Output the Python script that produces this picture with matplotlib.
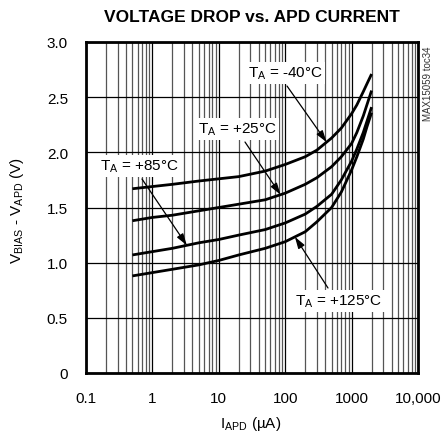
import numpy as np
import matplotlib
matplotlib.use("Agg")
import matplotlib.pyplot as plt
from matplotlib.ticker import FixedLocator, NullFormatter, LogLocator

plt.rcParams['font.family'] = ['Liberation Sans', 'DejaVu Sans']

# ---- data ----
current_uA = [0.5, 1, 2, 5, 10, 20, 50, 100, 200, 300, 500, 700, 1000, 1200, 1500, 1700, 2000]
v_m40 = [1.67, 1.69, 1.71, 1.74, 1.76, 1.78, 1.83, 1.89, 1.96, 2.02, 2.13, 2.22, 2.35, 2.43, 2.55, 2.62, 2.71]
v_p25 = [1.38, 1.41, 1.43, 1.47, 1.50, 1.53, 1.57, 1.63, 1.71, 1.77, 1.87, 1.96, 2.08, 2.18, 2.33, 2.43, 2.56]
v_p85 = [1.07, 1.10, 1.13, 1.18, 1.21, 1.25, 1.30, 1.36, 1.44, 1.51, 1.62, 1.75, 1.92, 2.03, 2.18, 2.28, 2.41]
v_p125 = [0.88, 0.91, 0.94, 0.98, 1.02, 1.07, 1.13, 1.19, 1.28, 1.37, 1.50, 1.64, 1.84, 1.96, 2.12, 2.23, 2.36]

x_ticks = [0.1, 1, 10, 100, 1000, 10000]
x_ticklabels = ['0.1', '1', '10', '100', '1000', '10,000']
y_ticks = [0, 0.5, 1.0, 1.5, 2.0, 2.5, 3.0]
y_ticklabels = ['0', '0.5', '1.0', '1.5', '2.0', '2.5', '3.0']

series = [v_m40, v_p25, v_p85, v_p125]
labels = [r'T$_\mathregular{A}$ = -40°C', r'T$_\mathregular{A}$ = +25°C',
          r'T$_\mathregular{A}$ = +85°C', r'T$_\mathregular{A}$ = +125°C']

W, H = 444, 435
fig = plt.figure(figsize=(W / 100, H / 100), dpi=100)
L, R, T, B = 86, 418, 43, 374
ax = fig.add_axes([L / W, 1 - B / H, (R - L) / W, (B - T) / H])

ax.set_xscale('log')
ax.set_xlim(0.1, 10000)
ax.set_ylim(0, 3.0)

# grid
ax.xaxis.set_major_locator(FixedLocator(x_ticks))
ax.xaxis.set_minor_locator(LogLocator(base=10, subs=np.arange(2, 10)))
ax.xaxis.set_minor_formatter(NullFormatter())
ax.set_xticklabels(x_ticklabels)
ax.set_yticks(y_ticks)
ax.set_yticklabels(y_ticklabels)
ax.grid(which='major', axis='both', color='black', lw=0.9)
ax.grid(which='minor', axis='x', color='#555555', lw=0.9)
ax.set_axisbelow(True)
ax.tick_params(which='both', length=0)
ax.tick_params(axis='x', pad=13, labelsize=11)
ax.tick_params(axis='y', pad=13, labelsize=11)
for s in ax.spines.values():
    s.set_linewidth(2.0)
    s.set_color('black')

for v in series:
    ax.plot(current_uA, v, color='black', lw=2.0, solid_capstyle='butt',
            solid_joinstyle='round', zorder=3)

# annotations
def px(xp, yp):
    return ((xp - L) / (R - L), (B - yp) / (B - T))

def on_curve(v, xval):
    return float(np.interp(np.log10(xval), np.log10(current_uA), v))

ann = [
    # text center px, arrow start px, arrow tip x (uA), series
    ((285, 74), (287, 87), 420, v_m40),
    ((237, 130), (245, 143), 85, v_p25),
    ((139, 167), (142, 180), 3.3, v_p85),
    ((339, 302), (328, 289), 140, v_p125),
]
for (tc, st, tipx, v), lab in zip(ann, labels):
    ax.text(*px(*tc), lab, transform=ax.transAxes, ha='center', va='center',
            fontsize=11, zorder=4,
            bbox=dict(boxstyle='square,pad=0.15', fc='white', ec='none'))
    ax.annotate('', xy=(tipx, on_curve(v, tipx)), xycoords='data',
                xytext=px(*st), textcoords='axes fraction', zorder=5,
                arrowprops=dict(arrowstyle='-|>,head_length=0.7,head_width=0.22',
                                color='black', lw=0.9, shrinkA=0, shrinkB=0))

fig.text(252 / W, 1 - 18 / H, 'VOLTAGE DROP vs. APD CURRENT', ha='center', va='center',
         fontsize=12.5, fontweight='bold', family=['Liberation Sans Narrow', 'Liberation Sans'])
fig.text(251 / W, 1 - 424 / H, r'I$_\mathregular{APD}$ (µA)', ha='center', va='center', fontsize=11)
fig.text(17 / W, 1 - 210 / H, r'V$_\mathregular{BIAS}$ - V$_\mathregular{APD}$ (V)', ha='center',
         va='center', rotation=90, fontsize=11)
fig.text(428 / W, 1 - 84 / H, 'MAX15059 toc34', ha='center', va='center', rotation=90,
         fontsize=7, color='#333333')

fig.savefig('out.png', dpi=100)
